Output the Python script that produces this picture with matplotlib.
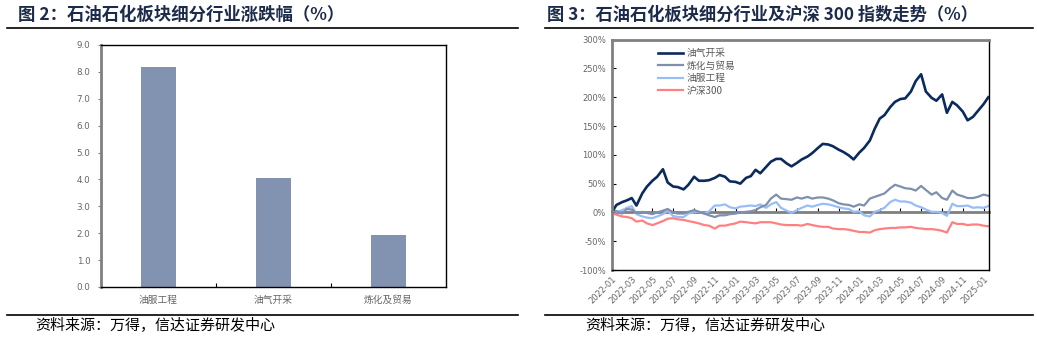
import matplotlib

matplotlib.use("Agg")
import matplotlib.dates as mdates
import matplotlib.pyplot as plt
import pandas as pd
from matplotlib.lines import Line2D

plt.rcParams["font.family"] = ["DejaVu Sans", "Noto Sans CJK SC"]

# ---------------------------------------------------------------------------
# Data
# ---------------------------------------------------------------------------

# Figure 2: sub-sector returns (%)
BAR_CATEGORIES = ["油服工程", "油气开采", "炼化及贸易"]
BAR_VALUES = [8.2, 4.05, 1.93]
BAR_YTICKS = [0, 1, 2, 3, 4, 5, 6, 7, 8, 9]

# Figure 3: cumulative performance (%), semi-monthly observations
DATES = pd.date_range("2022-01-01", "2025-01-15", freq="SMS")

OIL_GAS = [
    0, 13, 18, 21, 25, 12, 33, 45, 55, 62, 75, 52,
    45, 44, 40, 48, 62, 55, 55, 56, 60, 65, 62, 54,
    53, 50, 60, 63, 74, 68, 79, 88, 93, 93, 85, 80,
    86, 92, 97, 103, 112, 119, 118, 115, 109, 105, 99, 92,
    104, 112, 125, 145, 163, 169, 183, 192, 197, 198, 210, 228,
    240, 210, 199, 194, 205, 173, 192, 186, 175, 160, 166, 176,
    188, 200,
]
REFINING = [
    5, 2, -2, 6, 5, -1, 1, -1, -3, 0, 3, 6,
    0, -2, -2, 1, 4, 1, -2, -5, -8, -5, -5, -3,
    -2, 0, 1, 2, 4, 9, 13, 24, 31, 24, 23, 22,
    26, 24, 27, 24, 26, 26, 24, 21, 16, 14, 13, 10,
    14, 12, 24, 27, 30, 33, 42, 48, 45, 42, 41, 38,
    46, 39, 31, 35, 25, 22, 38, 31, 28, 25, 25, 27,
    31, 29,
]
OILFIELD_SERVICES = [
    3, 1, 4, 8, 11, -3, -7, -9, -10, -7, -3, 3,
    -6, -8, -8, -2, 1, 1, -2, 2, 12, 12, 14, 9,
    7, 10, 11, 12, 11, 14, 8, 14, 18, 8, 3, -1,
    4, 8, 12, 10, 13, 15, 14, 12, 9, 7, 6, 1,
    2, -5, -7, 1, 4, 8, 18, 22, 19, 19, 17, 12,
    9, 5, 1, 1, -1, -6, 15, 11, 11, 12, 8, 9,
    8, 11,
]
CSI300 = [
    -1, -4, -7, -8, -10, -16, -14, -19, -22, -19, -15, -11,
    -10, -12, -13, -15, -17, -19, -22, -23, -28, -23, -23, -21,
    -19, -16, -17, -18, -19, -17, -17, -17, -19, -21, -22, -22,
    -22, -23, -20, -22, -24, -25, -25, -28, -29, -29, -30, -32,
    -34, -34, -35, -31, -29, -28, -27, -27, -26, -26, -25, -27,
    -28, -29, -29, -30, -32, -35, -17, -20, -20, -22, -21, -21,
    -23, -24,
]

SERIES = [
    ("油气开采", OIL_GAS, "#0b2a5e", 1.9),
    ("炼化与贸易", REFINING, "#7f90ae", 1.6),
    ("油服工程", OILFIELD_SERVICES, "#99bdf7", 1.6),
    ("沪深300", CSI300, "#ff8080", 1.6),
]
LINE_YTICKS = [-100, -50, 0, 50, 100, 150, 200, 250, 300]

TITLE_COLOR = "#1c2b4a"
TICK_COLOR = "#666666"
SPINE_GRAY = "#808080"

fig = plt.figure(figsize=(10.37, 3.38), dpi=100)

# ---------------------------------------------------------------------------
# Headers, rules and source notes
# ---------------------------------------------------------------------------

fig.text(18 / 1037, 1 - 15 / 338, "图 2：石油石化板块细分行业涨跌幅（%）",
         fontsize=12.5, fontweight="bold", color=TITLE_COLOR,
         family=["Noto Sans CJK SC"], va="center", ha="left")
fig.text(547 / 1037, 1 - 15 / 338, "图 3：石油石化板块细分行业及沪深 300 指数走势（%）",
         fontsize=12.4, fontweight="bold", color=TITLE_COLOR,
         family=["Noto Sans CJK SC"], va="center", ha="left")

for x0, x1 in [(7, 518), (545, 1033)]:
    for y in (28, 315):
        fig.add_artist(Line2D([x0 / 1037, x1 / 1037], [1 - y / 338, 1 - y / 338],
                              color="black", lw=1.2, transform=fig.transFigure))

fig.text(35 / 1037, 1 - 326 / 338, "资料来源：万得，信达证券研发中心",
         fontsize=10.8, color="black", family=["Noto Sans CJK SC"], va="center")
fig.text(585 / 1037, 1 - 326 / 338, "资料来源：万得，信达证券研发中心",
         fontsize=10.8, color="black", family=["Noto Sans CJK SC"], va="center")

# ---------------------------------------------------------------------------
# Figure 2: bar chart
# ---------------------------------------------------------------------------

ax1 = fig.add_axes([101 / 1037, 1 - 287 / 338, (446 - 101) / 1037, (287 - 45) / 338])
positions = list(range(len(BAR_CATEGORIES)))
ax1.bar(positions, BAR_VALUES, width=0.31, color="#8193b0", zorder=2)
ax1.set_xlim(-0.5, len(BAR_CATEGORIES) - 0.5)
ax1.set_ylim(0, 9)
ax1.set_yticks(BAR_YTICKS)
ax1.set_yticklabels([f"{v:.1f}" for v in BAR_YTICKS], fontsize=6.3, color=TICK_COLOR)
ax1.set_xticks(positions)
ax1.set_xticklabels(BAR_CATEGORIES, fontsize=7, color=TICK_COLOR, family=["Noto Sans CJK SC"])
ax1.set_xticks([0.5, 1.5], minor=True)
ax1.tick_params(axis="x", which="major", length=0, pad=6)
ax1.tick_params(axis="x", which="minor", direction="in", length=3, width=0.8)
ax1.tick_params(axis="y", direction="out", length=2.5, width=0.8, color=SPINE_GRAY, pad=5)
ax1.spines["left"].set_color(SPINE_GRAY)
ax1.spines["left"].set_linewidth(2)
for side in ("top", "right", "bottom"):
    ax1.spines[side].set_color("black")
    ax1.spines[side].set_linewidth(1)

# ---------------------------------------------------------------------------
# Figure 3: line chart
# ---------------------------------------------------------------------------

ax2 = fig.add_axes([611.7 / 1037, 1 - 270 / 338, (989.3 - 611.7) / 1037, (270 - 39.7) / 338])
for label, values, color, width in reversed(SERIES):
    ax2.plot(DATES, values, color=color, lw=width, label=label, solid_joinstyle="round")

ax2.set_ylim(-100, 300)
ax2.set_yticks(LINE_YTICKS)
ax2.set_yticklabels([f"{v}%" for v in LINE_YTICKS], fontsize=6, color=TICK_COLOR)
ax2.tick_params(axis="y", direction="in", length=3, width=0.8, pad=4)
ax2.set_xlim(pd.Timestamp("2022-01-01"), pd.Timestamp("2025-01-18"))

xticks = pd.date_range("2022-01-01", "2025-01-01", freq="2MS")
ax2.set_xticks(xticks)
ax2.xaxis.set_major_formatter(mdates.DateFormatter("%Y-%m"))
ax2.tick_params(axis="x", length=0, pad=3)
for lbl in ax2.get_xticklabels():
    lbl.set_rotation(45)
    lbl.set_ha("right")
    lbl.set_rotation_mode("anchor")
    lbl.set_fontsize(6)
    lbl.set_color(TICK_COLOR)

# zero axis with its own tick marks
zero_axis = ax2.secondary_xaxis(0.25)
zero_axis.set_xticks(xticks)
zero_axis.tick_params(axis="x", direction="in", length=3, width=0.8, labelbottom=False)
zero_axis.spines["bottom"].set_color(SPINE_GRAY)
zero_axis.spines["bottom"].set_linewidth(2)

for side in ("left", "top"):
    ax2.spines[side].set_color(SPINE_GRAY)
    ax2.spines[side].set_linewidth(2)
for side in ("right", "bottom"):
    ax2.spines[side].set_color("black")
    ax2.spines[side].set_linewidth(1)

handles, labels = ax2.get_legend_handles_labels()
leg = ax2.legend(handles[::-1], labels[::-1], loc="upper left",
                 bbox_to_anchor=(0.1, 1.0), frameon=False,
                 handlelength=2.6, handletextpad=0.3, labelspacing=0.25,
                 prop={"family": ["Noto Sans CJK SC"], "size": 7})
for text in leg.get_texts():
    text.set_color("#595959")

fig.savefig("out.png", dpi=100)
